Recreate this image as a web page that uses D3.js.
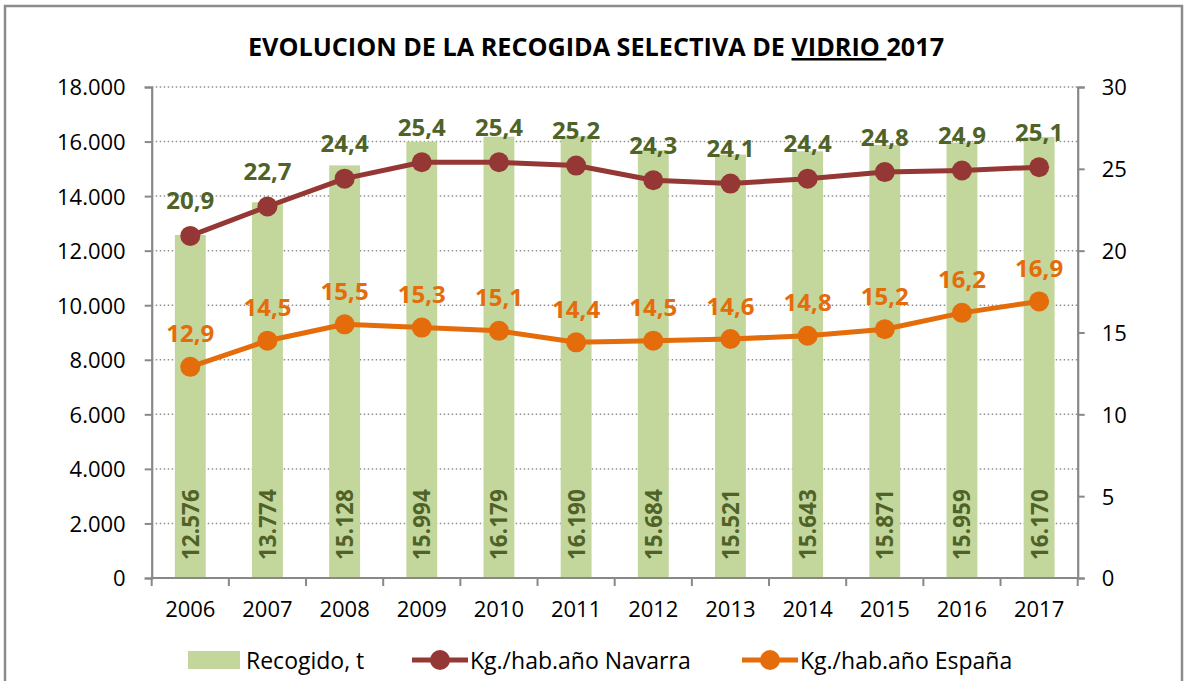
<!DOCTYPE html>
<html><head><meta charset="utf-8">
<script src="https://cdn.jsdelivr.net/npm/d3@7"></script>
<style>
html,body{margin:0;padding:0;background:#fff;}
svg{display:block;font-family:"Open Sans",Lato,sans-serif;}
</style></head>
<body>
<svg id="c" width="1186" height="681"></svg>
<script>
const years = ["2006","2007","2008","2009","2010","2011","2012","2013","2014","2015","2016","2017"];
const recogido = [12576,13774,15128,15994,16179,16190,15684,15521,15643,15871,15959,16170];
const navarra = [20.9,22.7,24.4,25.4,25.4,25.2,24.3,24.1,24.4,24.8,24.9,25.1];
const espana = [12.9,14.5,15.5,15.3,15.1,14.4,14.5,14.6,14.8,15.2,16.2,16.9];
const leftTicks = [0,2000,4000,6000,8000,10000,12000,14000,16000,18000];
const rightTicks = [0,5,10,15,20,25,30];
const seriesNames = ["Recogido, t","Kg./hab.año Navarra","Kg./hab.año España"];
const titleParts = ["EVOLUCION DE LA RECOGIDA SELECTIVA DE ","VIDRIO ","2017"];

const svg = d3.select("#c");
const FONT = "'Open Sans',Lato,sans-serif";
const X0 = 151.7, X1 = 1077.7, YT = 87, YB = 578;
const cBar = "#C3D69B", cNav = "#953735", cEsp = "#E46C0A", cLab = "#4F6228", cAxis = "#888888";

const fmtThousands = v => d3.format(",")(v).replace(/,/g, ".");
const fmtDec = v => d3.format(".1f")(v).replace(".", ",");

// frame
svg.append("rect").attr("x",5).attr("y",6).attr("width",1177).attr("height",700)
  .attr("fill","none").attr("stroke","#8c8c8c").attr("stroke-width",2.5);

const x = d3.scaleBand().domain(years).range([X0,X1]).paddingInner(0.6).paddingOuter(0.3);
const cx = d => x(d) + x.bandwidth()/2;
const yL = d3.scaleLinear().domain([0,18000]).range([YB,YT]);
const yR = d3.scaleLinear().domain([0,30]).range([YB,YT]);

// gridlines
svg.append("g").selectAll("line").data(leftTicks.filter(t=>t>0)).join("line")
  .attr("x1",X0).attr("x2",X1).attr("y1",d=>yL(d)).attr("y2",d=>yL(d))
  .attr("stroke","#8f8f8f").attr("stroke-width",1.5).attr("stroke-dasharray","1.5,2.5");

// bars
svg.append("g").selectAll("rect").data(years).join("rect")
  .attr("x",d=>x(d)).attr("width",x.bandwidth())
  .attr("y",(d,i)=>yL(recogido[i])).attr("height",(d,i)=>yL(0)-yL(recogido[i]))
  .attr("fill",cBar);

// bar labels
svg.append("g").selectAll("text").data(years).join("text")
  .attr("transform",d=>`translate(${cx(d)},${YB-18}) rotate(-90)`)
  .attr("text-anchor","start").attr("dominant-baseline","central")
  .attr("font-size",22.5).attr("font-weight","bold").attr("fill",cLab)
  .text((d,i)=>fmtThousands(recogido[i]));

// axes
const axL = svg.append("g").attr("transform",`translate(${X0},0)`)
  .call(d3.axisLeft(yL).tickValues(leftTicks).tickFormat(fmtThousands).tickSize(7).tickPadding(19));
const axR = svg.append("g").attr("transform",`translate(${X1},0)`)
  .call(d3.axisRight(yR).tickValues(rightTicks).tickFormat(d3.format("d")).tickSize(7).tickPadding(17));
const axB = svg.append("g").attr("transform",`translate(0,${YB})`)
  .call(d3.axisBottom(x).tickSize(0).tickPadding(23));
// category boundary ticks
svg.append("g").selectAll("line").data(d3.range(years.length+1)).join("line")
  .attr("x1",i=>X0+i*x.step()).attr("x2",i=>X0+i*x.step())
  .attr("y1",YB).attr("y2",YB+8).attr("stroke",cAxis).attr("stroke-width",2);

[axL,axR,axB].forEach(a=>{
  a.select(".domain").attr("stroke",cAxis).attr("stroke-width",2.2);
  a.selectAll(".tick line").attr("stroke",cAxis).attr("stroke-width",2);
  a.selectAll(".tick text").attr("font-size",22).attr("fill","#000").attr("font-family",FONT);
});
axL.selectAll(".tick text").attr("dy","0.36em");
axR.selectAll(".tick text").attr("dy","0.36em");
axB.select(".domain").attr("d",`M${X0},0H${X1}`);

// lines
const line = (scale, vals) => d3.line().x((d,i)=>cx(years[i])).y(d=>scale(d))(vals);
[[navarra,cNav],[espana,cEsp]].forEach(([vals,col])=>{
  svg.append("path").attr("d",line(yR,vals)).attr("fill","none")
    .attr("stroke",col).attr("stroke-width",5).attr("stroke-linejoin","round");
  svg.append("g").selectAll("circle").data(vals).join("circle")
    .attr("cx",(d,i)=>cx(years[i])).attr("cy",d=>yR(d)).attr("r",10).attr("fill",col);
});

// line labels
svg.append("g").selectAll("text").data(navarra).join("text")
  .attr("x",(d,i)=>cx(years[i])).attr("y",d=>yR(d)-36)
  .attr("text-anchor","middle").attr("dominant-baseline","central")
  .attr("font-size",24).attr("font-weight","bold").attr("fill",cLab).text(fmtDec);
svg.append("g").selectAll("text").data(espana).join("text")
  .attr("x",(d,i)=>cx(years[i])).attr("y",d=>yR(d)-34)
  .attr("text-anchor","middle").attr("dominant-baseline","central")
  .attr("font-size",24).attr("font-weight","bold").attr("fill",cEsp).text(fmtDec);

// title
const t = svg.append("text").attr("x",596).attr("y",56).attr("text-anchor","middle")
  .attr("font-size",25.2).attr("font-weight","bold").attr("fill","#000")
  .style("white-space","pre");
t.append("tspan").text(titleParts[0]);
t.append("tspan").attr("text-decoration","underline").text(titleParts[1]);
t.append("tspan").text(titleParts[2]);

// legend
const lg = svg.append("g").attr("font-size",23);
lg.append("rect").attr("x",188).attr("y",651).attr("width",52).attr("height",18).attr("fill",cBar);
lg.append("text").attr("x",246).attr("y",660).attr("dominant-baseline","central").text(seriesNames[0]);
[[cNav,412,seriesNames[1]],[cEsp,742,seriesNames[2]]].forEach(([col,lx,name])=>{
  lg.append("line").attr("x1",lx).attr("x2",lx+56).attr("y1",660).attr("y2",660)
    .attr("stroke",col).attr("stroke-width",5);
  lg.append("circle").attr("cx",lx+28).attr("cy",660).attr("r",10).attr("fill",col);
  lg.append("text").attr("x",lx+58).attr("y",660).attr("dominant-baseline","central").text(name);
});
</script>
</body></html>
